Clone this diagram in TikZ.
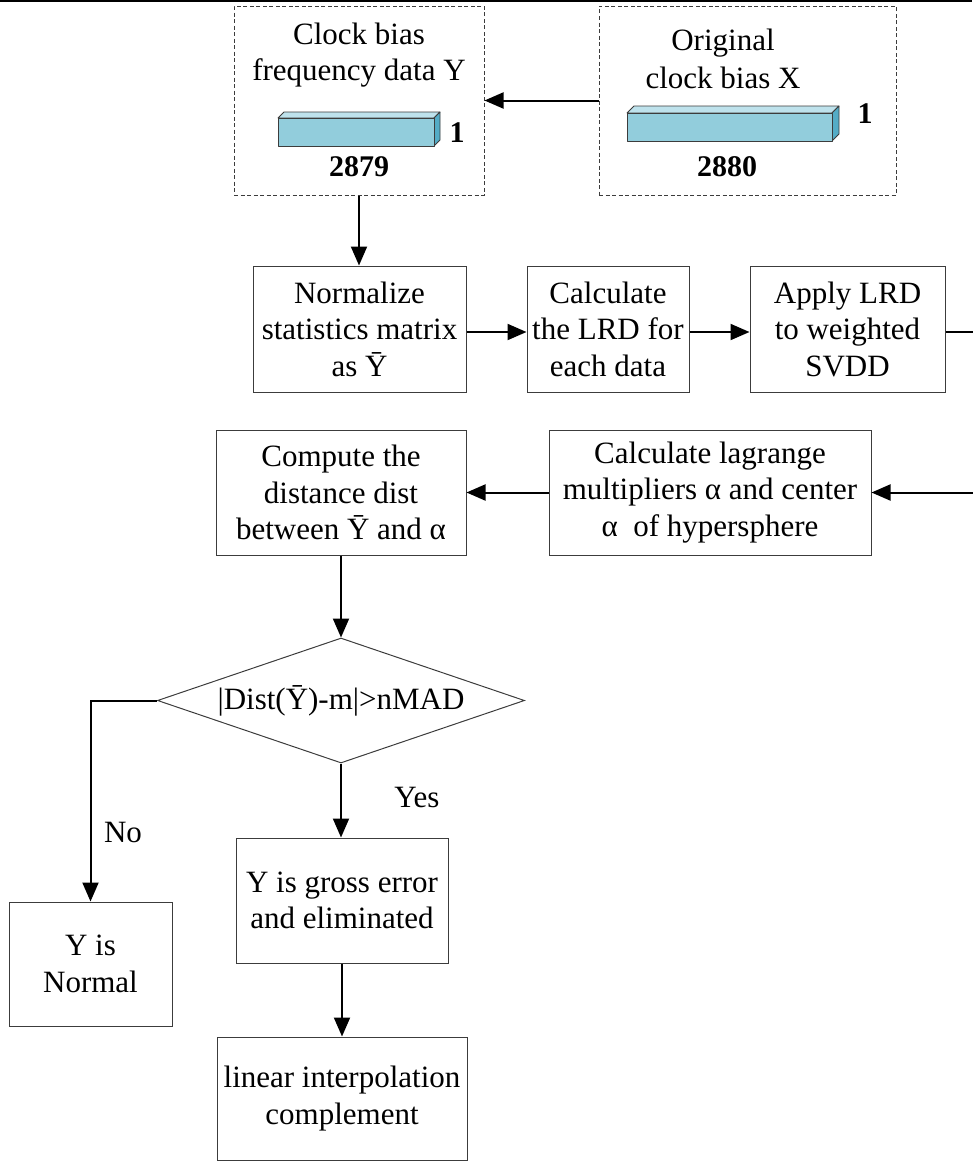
\documentclass[tikz,border=0pt]{standalone}
\usepackage{fontspec}
\setmainfont{Liberation Serif}
\usetikzlibrary{arrows.meta,shapes.geometric}

\definecolor{barfront}{RGB}{146,205,220}
\definecolor{bartop}{RGB}{190,226,236}
\definecolor{barside}{RGB}{84,172,198}
\definecolor{framegray}{RGB}{60,60,60}

\begin{document}
\begin{tikzpicture}[x=1pt,y=-1pt,
  every node/.style={font=\fontsize{31}{36.5}\selectfont, align=center, inner sep=0pt},
  procbox/.style={draw=framegray, line width=1pt},
  databox/.style={draw=framegray, line width=1pt, dash pattern=on 4pt off 2.5pt},
  decision/.style={draw=framegray, line width=1pt, shape=diamond, aspect=2.9},
  flow/.style={line width=2pt, -{Triangle[length=19pt,width=16pt]}},
  numlabel/.style={font=\fontsize{30}{36}\selectfont\bfseries},
  bar/.style={draw=framegray, line width=0.8pt, line join=round}]

\useasboundingbox (0,0) rectangle (972,1162);

% rule along the top edge
\draw[line width=1.6pt] (0,0.8) -- (972,0.8);

% ---- input data blocks ----
\node[databox, minimum width=250pt, minimum height=189pt] (ybox) at (359,100.5) {};
\node[databox, minimum width=297pt, minimum height=189pt] (xbox) at (747.5,100.5) {};

\node (ytitle) at (359,55) {Clock bias\\frequency data Y};
\node[font=\fontsize{31}{38}\selectfont] (xtitle) at (723,59) {Original\\clock bias X};

% 1 x 2879 bar
\fill[bartop, bar] (278,118) -- (284,112) -- (440,112) -- (434,118) -- cycle;
\fill[barside, bar] (434,118) -- (440,112) -- (440,140) -- (434,146) -- cycle;
\fill[barfront, bar] (278,118) rectangle (434,146);
\node[numlabel] (yone) at (457,133) {1};
\node[numlabel] (ylen) at (359,167) {2879};

% 1 x 2880 bar
\fill[bartop, bar] (627,113) -- (634,106) -- (839,106) -- (832,113) -- cycle;
\fill[barside, bar] (832,113) -- (839,106) -- (839,134) -- (832,141) -- cycle;
\fill[barfront, bar] (627,113) rectangle (832,141);
\node[numlabel] (xone) at (865,114) {1};
\node[numlabel] (xlen) at (727,167) {2880};

% ---- processing steps ----
\node[procbox, minimum width=213pt, minimum height=126pt] (norm) at (359.5,329)
  {Normalize\\statistics matrix\\as Ȳ};
\node[procbox, minimum width=162pt, minimum height=126pt] (lrd) at (608,329)
  {Calculate\\the LRD for\\each data};
\node[procbox, minimum width=195pt, minimum height=126pt] (apply) at (847.5,329)
  {Apply LRD\\to weighted\\SVDD};

\node[procbox, minimum width=250pt, minimum height=125pt] (comp) at (341,492.5)
  {Compute the\\distance dist\\between Ȳ and α};
\node[procbox, minimum width=322pt, minimum height=125pt] (lag) at (710,492.5)
  {Calculate lagrange\\multipliers α and center\\α\ \ of hypersphere};

\node[decision, minimum width=367pt, minimum height=125pt] (dec) at (341,700.5)
  {|Dist(Ȳ)-m|>nMAD};

\node[procbox, minimum width=163pt, minimum height=124pt] (normal) at (90.5,964)
  {Y is\\Normal};
\node[procbox, minimum width=212pt, minimum height=125pt] (gross) at (342,900.5)
  {Y is gross error\\and eliminated};
\node[procbox, minimum width=250pt, minimum height=123pt] (lin) at (342,1098.5)
  {linear interpolation\\complement};

\node (yes) at (417,797) {Yes};
\node (no) at (123,832) {No};

% ---- connectors ----
\coordinate (loopx) at (982,0);
\draw[flow] (xbox.west) -- (ybox.east);
\draw[flow] (ybox.south) -- (ybox.south |- norm.north);
\draw[flow] ([yshift=-3pt]norm.east) -- ([yshift=-3pt]lrd.west);
\draw[flow] ([yshift=-3pt]lrd.east) -- ([yshift=-3pt]apply.west);
\draw[flow] ([yshift=-3pt]apply.east) -- ([yshift=-3pt]apply.east -| loopx) |- (lag.east);
\draw[flow] (lag.west) -- (comp.east);
\draw[flow] (comp.south) -- (dec.north);
\draw[flow] (dec.west) -| (normal.north);
\draw[flow] (dec.south) -- (dec.south |- gross.north);
\draw[flow] (gross.south) -- (lin.north);

\end{tikzpicture}
\end{document}
